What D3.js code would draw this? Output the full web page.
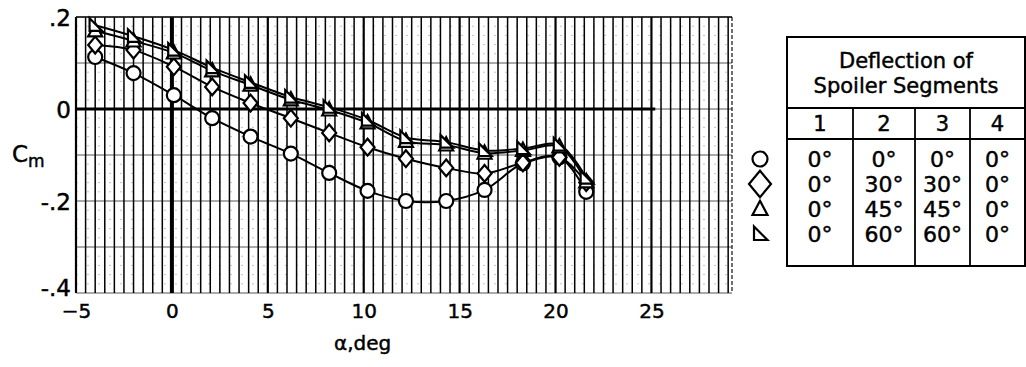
<!DOCTYPE html>
<html>
<head>
<meta charset="utf-8">
<script src="https://cdn.jsdelivr.net/npm/d3@7"></script>
<style>
  body { margin: 0; background: #fff; }
  svg { display: block; }
  text { font-family: "DejaVu Sans", sans-serif; fill: #000; stroke: #000; stroke-width: 0.45px; }
</style>
</head>
<body>
<div id="chart"></div>
<script>
// angle of attack, deg
const alphaDeg = [-4, -2, 0.1, 2.1, 4.1, 6.2, 8.2, 10.2, 12.2, 14.3, 16.3, 18.3, 20.2, 21.6];
// pitching moment coefficient for each spoiler setting
const cmCircle   = [0.113, 0.078, 0.030, -0.020, -0.060, -0.097, -0.139, -0.178, -0.200, -0.200, -0.176, -0.118, -0.105, -0.180];
const cmDiamond  = [0.139, 0.128, 0.092, 0.048, 0.013, -0.020, -0.052, -0.083, -0.108, -0.128, -0.140, -0.117, -0.105, -0.160];
const cmTriangle = [0.170, 0.148, 0.122, 0.083, 0.052, 0.020, -0.002, -0.030, -0.070, -0.078, -0.096, -0.090, -0.082, -0.158];
const cmRightTri = [0.182, 0.158, 0.128, 0.090, 0.058, 0.026, 0.004, -0.024, -0.062, -0.072, -0.090, -0.086, -0.078, -0.150];

const xTicks = [-5, 0, 5, 10, 15, 20, 25];
const yTicks = [0.2, 0, -0.2, -0.4];
const yTickLabels = [".2", "0", "-.2", "-.4"];

const legendTitle = ["Deflection of", "Spoiler Segments"];
const segmentLabels = ["1", "2", "3", "4"];
const legendRows = [
    ["0°", "0°", "0°", "0°"],
    ["0°", "30°", "30°", "0°"],
    ["0°", "45°", "45°", "0°"],
    ["0°", "60°", "60°", "0°"]
];

const series = [
    { kind: "circle", values: cmCircle },
    { kind: "diamond", values: cmDiamond },
    { kind: "triangle", values: cmTriangle },
    { kind: "righttri", values: cmRightTri }
];

const width = 1026, height = 367;
const svg = d3.select("#chart").append("svg")
    .attr("width", width)
    .attr("height", height);
svg.append("rect").attr("width", width).attr("height", height).attr("fill", "#fff");

const x = d3.scaleLinear().domain([-5, 29.2]).range([76, 732]);
const y = d3.scaleLinear().domain([-0.4, 0.2]).range([293, 17]);

// grid
const grid = svg.append("g");
const minorY = d3.range(-0.4, 0.2001, 0.02).filter(v => Math.abs(Math.round(v * 10) - v * 10) > 0.01);
grid.selectAll(".hminor").data(minorY).enter().append("line")
    .attr("x1", x(-5)).attr("x2", x(29.2))
    .attr("y1", d => y(d)).attr("y2", d => y(d))
    .attr("stroke", "#aaa").attr("stroke-width", 0.7)
    .attr("stroke-dasharray", "2,9");
grid.selectAll(".hmajor").data(d3.range(-4, 3).map(v => v / 10)).enter().append("line")
    .attr("x1", x(-5)).attr("x2", x(29.2))
    .attr("y1", d => y(d)).attr("y2", d => y(d))
    .attr("stroke", "#555").attr("stroke-width", 1);
grid.selectAll(".v").data(d3.range(-10, 59).map(v => v / 2)).enter().append("line")
    .attr("x1", d => x(d)).attr("x2", d => x(d))
    .attr("y1", y(0.2)).attr("y2", y(-0.4))
    .attr("stroke", "#000")
    .attr("stroke-width", d => d === 0 ? 4 : (d % 5 === 0 ? 2.2 : 1.5));
grid.append("line")
    .attr("x1", x(29.2)).attr("x2", x(29.2)).attr("y1", y(0.2)).attr("y2", y(-0.4))
    .attr("stroke", "#111").attr("stroke-width", 1.2).attr("stroke-dasharray", "4,2");
grid.append("line")
    .attr("x1", x(-5)).attr("x2", x(29.2)).attr("y1", y(0.2)).attr("y2", y(0.2))
    .attr("stroke", "#111").attr("stroke-width", 1.5);
grid.append("line")
    .attr("x1", x(-5)).attr("x2", x(25.2)).attr("y1", y(0)).attr("y2", y(0))
    .attr("stroke", "#000").attr("stroke-width", 3);

// axes (labels only)
const xAxis = d3.axisBottom(x).tickValues(xTicks).tickSize(0).tickPadding(0).tickFormat(d3.format("d"));
svg.append("g")
    .attr("transform", `translate(0,${y(-0.4) + 25})`)
    .call(xAxis)
    .call(g => g.select(".domain").remove())
    .selectAll("text")
    .attr("dy", 0)
    .attr("fill", "#000")
    .style("font-family", "DejaVu Sans, sans-serif")
    .style("font-size", "20px");

const yAxis = d3.axisLeft(y).tickValues(yTicks).tickSize(0).tickPadding(5)
    .tickFormat((d, i) => yTickLabels[i]);
svg.append("g")
    .attr("transform", `translate(${x(-5)},0)`)
    .call(yAxis)
    .call(g => g.select(".domain").remove())
    .selectAll("text")
    .attr("dy", d => d === -0.4 ? "0.1em" : "0.36em")
    .attr("fill", "#000")
    .style("font-family", "DejaVu Sans, sans-serif")
    .style("font-size", "23px");

const cmLabel = svg.append("text").attr("x", 12).attr("y", 162).style("font-size", "23px");
cmLabel.append("tspan").text("C");
cmLabel.append("tspan").attr("dy", 5).style("font-size", "17px").text("m");

svg.append("text")
    .attr("x", 334).attr("y", 350)
    .style("font-size", "20px")
    .text("α,deg");

// markers
function markerPath(kind, cx, cy, s) {
    const p = d3.path();
    if (kind === "circle") {
        p.moveTo(cx + s, cy);
        p.arc(cx, cy, s, 0, Math.PI * 2);
    } else if (kind === "diamond") {
        p.moveTo(cx, cy - s * 1.2); p.lineTo(cx + s, cy); p.lineTo(cx, cy + s * 1.2); p.lineTo(cx - s, cy);
        p.closePath();
    } else if (kind === "triangle") {
        p.moveTo(cx, cy - s * 1.1); p.lineTo(cx + s, cy + s * 0.8); p.lineTo(cx - s, cy + s * 0.8);
        p.closePath();
    } else {
        p.moveTo(cx - s * 0.8, cy - s); p.lineTo(cx + s, cy + s * 0.8); p.lineTo(cx - s * 0.8, cy + s * 0.8);
        p.closePath();
    }
    return p.toString();
}

const line = d3.line().x((d, i) => x(alphaDeg[i])).y(d => y(d)).curve(d3.curveCatmullRom.alpha(0.5));

const plot = svg.append("g");
series.forEach(s => {
    plot.append("path")
        .attr("d", line(s.values))
        .attr("fill", "none")
        .attr("stroke", "#000")
        .attr("stroke-width", 2);
});
series.forEach(s => {
    plot.append("g").selectAll("path").data(s.values).enter().append("path")
        .attr("d", (d, i) => markerPath(s.kind, x(alphaDeg[i]), y(d), 7))
        .attr("fill", "#fff")
        .attr("stroke", "#000")
        .attr("stroke-width", 2.2);
});

// legend table
const tbl = svg.append("g");
const tL = 787, tR = 1025, tT = 37, tH1 = 108, tH2 = 139, tB = 266;
const colX = [tL, 853, 915, 970, tR];
tbl.append("rect").attr("x", tL).attr("y", tT).attr("width", tR - tL).attr("height", tB - tT)
    .attr("fill", "none").attr("stroke", "#000").attr("stroke-width", 2);
[tH1, tH2].forEach(yy => tbl.append("line").attr("x1", tL).attr("x2", tR).attr("y1", yy).attr("y2", yy)
    .attr("stroke", "#000").attr("stroke-width", 2));
colX.slice(1, 4).forEach(xx => tbl.append("line").attr("x1", xx).attr("x2", xx).attr("y1", tH1).attr("y2", tB)
    .attr("stroke", "#000").attr("stroke-width", 1.8));
tbl.selectAll(".title").data(legendTitle).enter().append("text")
    .attr("x", (tL + tR) / 2).attr("y", (d, i) => 68 + i * 25)
    .attr("text-anchor", "middle").style("font-size", "21px").text(d => d);
tbl.selectAll(".seg").data(segmentLabels).enter().append("text")
    .attr("x", (d, i) => (colX[i] + colX[i + 1]) / 2).attr("y", 131)
    .attr("text-anchor", "middle").style("font-size", "21px").text(d => d);
const rowY = [167, 192, 217, 242];
legendRows.forEach((row, r) => {
    tbl.selectAll(null).data(row).enter().append("text")
        .attr("x", (d, i) => (colX[i] + colX[i + 1]) / 2).attr("y", rowY[r])
        .attr("text-anchor", "middle").style("font-size", "22px").text(d => d);
    tbl.append("path")
        .attr("d", markerPath(series[r].kind, 760, rowY[r] - 8, r === 1 ? 11 : 7.5))
        .attr("fill", "#fff").attr("stroke", "#000").attr("stroke-width", 2.2);
});
</script>
</body>
</html>
